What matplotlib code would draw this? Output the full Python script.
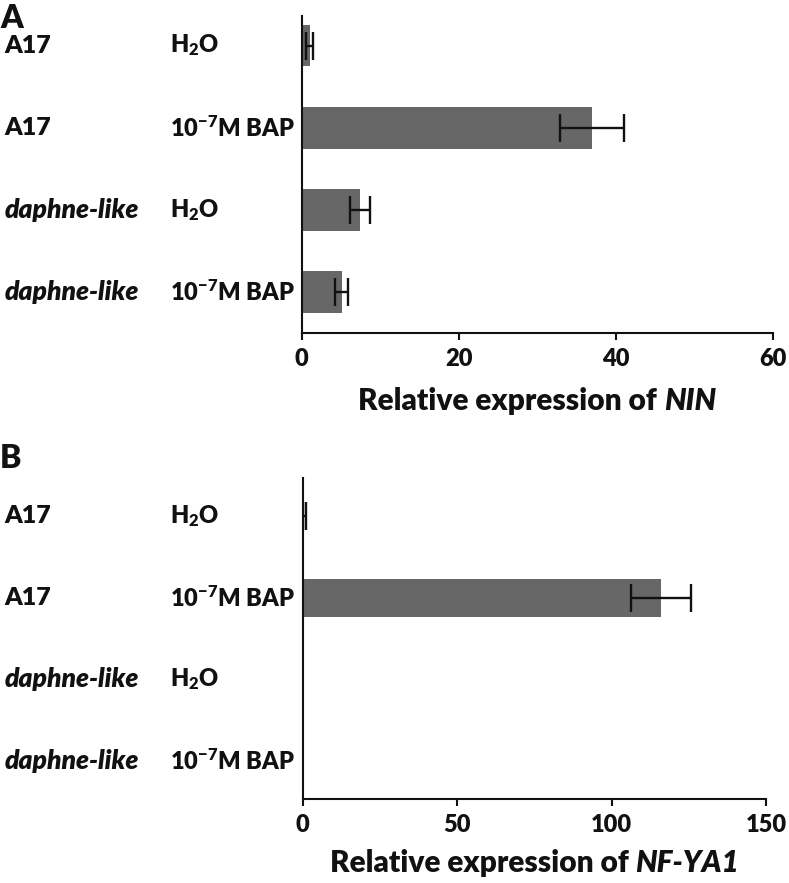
"""Relative expression of NIN and NF-YA1 after BAP treatment."""

import matplotlib

matplotlib.use("Agg")
import matplotlib.pyplot as plt
import matplotlib.transforms as mtransforms
import numpy as np
from matplotlib.offsetbox import AnchoredOffsetbox, HPacker, TextArea

plt.rcParams["font.family"] = ["Lato", "DejaVu Sans"]
plt.rcParams["font.weight"] = "heavy"
plt.rcParams["axes.labelweight"] = "heavy"
plt.rcParams["mathtext.fontset"] = "custom"
plt.rcParams["mathtext.rm"] = "Lato:heavy"
plt.rcParams["mathtext.bf"] = "Lato:heavy"
plt.rcParams["mathtext.it"] = "Lato:italic:heavy"

# data
genotypes = ["A17", "A17", "daphne-like", "daphne-like"]
treatments = [r"H$_{\mathbf{2}}$O", r"10$^{\mathbf{-7}}$M BAP",
              r"H$_{\mathbf{2}}$O", r"10$^{\mathbf{-7}}$M BAP"]
nin_mean = [1.0, 37.0, 7.4, 5.1]
nin_err = [0.5, 4.1, 1.3, 0.8]
nfya1_mean = [0.5, 116.0, 0.0, 0.0]
nfya1_err = [0.5, 9.8, 0.0, 0.0]
nin_ticks = [0, 20, 40, 60]
nfya1_ticks = [0, 50, 100, 150]

BAR_COLOR = "#676767"
INK = "#111111"

fig = plt.figure(figsize=(7.89, 8.83), dpi=100)
ax_a = fig.add_axes([0.3824, 0.6229, 0.597, 0.359])
ax_b = fig.add_axes([0.3836, 0.0951, 0.5872, 0.3635])


def draw_panel(ax, means, errs, xticks, gene, label_y, bar_h, ylim):
    y = np.arange(len(means))
    ax.barh(y, means, height=bar_h, color=BAR_COLOR, zorder=2)
    errs = np.asarray(errs, dtype=float)
    keep = errs > 0
    ax.errorbar(np.asarray(means)[keep], y[keep], xerr=errs[keep], fmt="none",
                ecolor=INK, elinewidth=1.7, capsize=10, capthick=1.7, zorder=3)
    ax.set_xlim(xticks[0], xticks[-1])
    ax.set_ylim(*ylim)
    ax.set_xticks(xticks, labels=[str(t) for t in xticks], fontweight="heavy",
                  fontsize=17, color=INK)
    ax.set_yticks([])
    for side in ("top", "right"):
        ax.spines[side].set_visible(False)
    for side in ("left", "bottom"):
        ax.spines[side].set_linewidth(1.5)
        ax.spines[side].set_color(INK)
    ax.tick_params(axis="x", length=5, width=1.5, pad=6, color=INK)

    # x label: upright text followed by italic gene name
    props = dict(fontsize=21.5, fontweight="heavy", color=INK)
    label = HPacker(children=[
        TextArea("Relative expression of", textprops=props),
        TextArea(gene, textprops=dict(props, fontstyle="italic")),
    ], align="baseline", pad=0, sep=5)
    ax.add_artist(AnchoredOffsetbox(loc="upper center", child=label, pad=0,
                                    borderpad=0, frameon=False,
                                    bbox_to_anchor=(0.5, label_y),
                                    bbox_transform=ax.transAxes))

    trans = mtransforms.blended_transform_factory(fig.transFigure, ax.transData)
    for yi, (g, t) in enumerate(zip(genotypes, treatments)):
        if g.startswith("daphne"):
            ax.text(0.006, yi, g, transform=trans, ha="left", va="center",
                    fontsize=19, fontstyle="italic", color=INK)
        else:
            ax.text(0.006, yi, g, transform=trans, ha="left", va="center",
                    fontsize=18, color=INK)
        ax.text(0.216, yi, t, transform=trans, ha="left", va="center",
                fontsize=17, color=INK)


draw_panel(ax_a, nin_mean, nin_err, nin_ticks, "NIN", -0.17, 0.51,
           (3.5, -0.36))
draw_panel(ax_b, nfya1_mean, nfya1_err, nfya1_ticks, "NF-YA1", -0.155, 0.47,
           (3.47, -0.47))

fig.text(0.0, 0.995, "A", fontsize=23, va="top", ha="left", color=INK)
fig.text(0.0, 0.497, "B", fontsize=23, va="top", ha="left", color=INK)

fig.savefig("out.png", dpi=100)
